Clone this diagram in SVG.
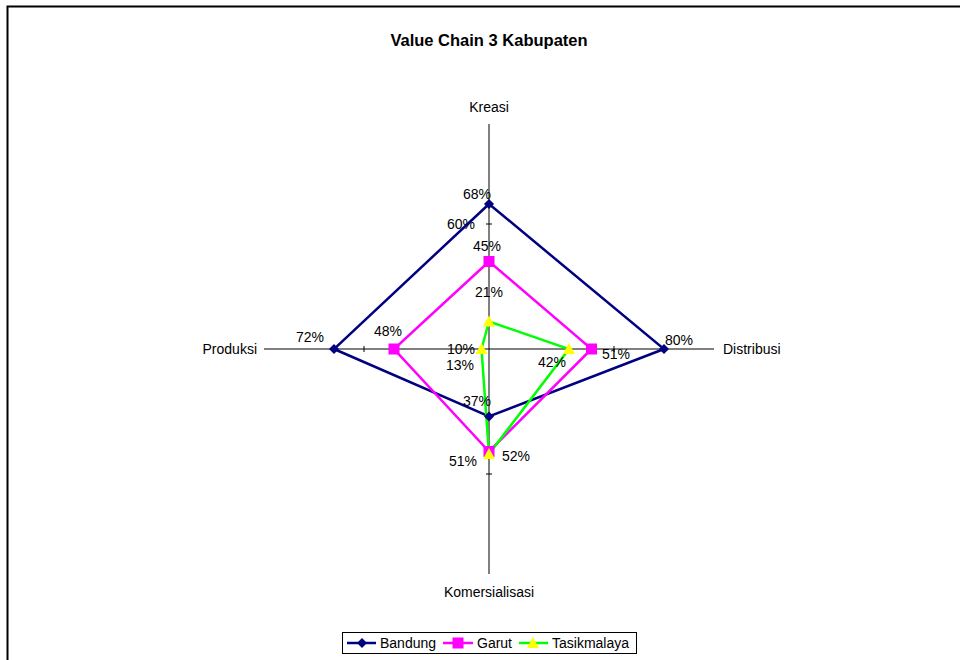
<svg xmlns="http://www.w3.org/2000/svg" width="960" height="660" viewBox="0 0 960 660">
<style>
text{font-family:"Liberation Sans",Arial,sans-serif;font-size:14px;fill:#000}
.t{font-size:16.5px;font-weight:bold}
.ax{stroke:#000;stroke-width:1;fill:none}
.b{stroke:#000080;stroke-width:2.5;fill:none;stroke-linejoin:miter}
.g{stroke:#FF00FF;stroke-width:2.5;fill:none}
.k{stroke:#00FF00;stroke-width:2.5;fill:none}
.m{text-anchor:middle}
</style>
<defs>
<path id="dia" d="M0,-5 L5,0 L0,5 L-5,0 Z" fill="#000080"/>
<rect id="sq" x="-5.5" y="-5.5" width="11" height="11" fill="#FF00FF"/>
<path id="tri" d="M0,-6 L6,5 L-6,5 Z" fill="#FFFF00"/>
</defs>
<rect x="0" y="0" width="960" height="660" fill="#fff"/>
<path d="M7.5,670 L7.5,6.5 L970,6.5" stroke="#000" stroke-width="2" fill="none"/>
<text class="t m" x="489" y="46">Value Chain 3 Kabupaten</text>
<g id="axes">
<line class="ax" x1="489" y1="124" x2="489" y2="574"/>
<line class="ax" x1="264" y1="349" x2="714" y2="349"/>
<line class="ax" x1="486" y1="224" x2="492" y2="224"/>
<line class="ax" x1="486" y1="474" x2="492" y2="474"/>
<line class="ax" x1="364" y1="346" x2="364" y2="352"/>
<line class="ax" x1="614" y1="346" x2="614" y2="352"/>
<text class="m" x="489" y="112">Kreasi</text>
<text class="m" x="489" y="597">Komersialisasi</text>
<text x="257" y="354" text-anchor="end">Produksi</text>
<text x="723" y="354">Distribusi</text>
<text x="475" y="229" text-anchor="end">60%</text>
<text x="475" y="354" text-anchor="end">10%</text>
</g>
<g id="connectors">
<polygon class="b" points="489,204 664,349 489,416.5 334,349"/>
<polygon class="g" points="489,261.5 591.5,349 489,451.5 394,349"/>
<polygon class="k" points="489,321.5 569,349 489,454 481.5,349"/>
</g>
<g id="bandung">
<use href="#dia" x="489" y="204"/><use href="#dia" x="664" y="349"/><use href="#dia" x="489" y="416.5"/><use href="#dia" x="334" y="349"/>
<text class="m" x="477" y="199">68%</text>
<text class="m" x="679" y="345">80%</text>
<text class="m" x="477" y="406">37%</text>
<text class="m" x="310" y="342">72%</text>
</g>
<g id="garut">
<use href="#sq" x="489" y="261.5"/><use href="#sq" x="591.5" y="349"/><use href="#sq" x="489" y="451.5"/><use href="#sq" x="394" y="349"/>
<text class="m" x="487" y="251">45%</text>
<text class="m" x="616" y="359">51%</text>
<text class="m" x="463" y="466">51%</text>
<text class="m" x="388" y="336">48%</text>
</g>
<g id="tasikmalaya">
<use href="#tri" x="489" y="321.5"/><use href="#tri" x="569" y="349"/><use href="#tri" x="489" y="454"/><use href="#tri" x="481.5" y="349"/>
<text class="m" x="489" y="297">21%</text>
<text class="m" x="552" y="367">42%</text>
<text class="m" x="516" y="461">52%</text>
<text class="m" x="460" y="370">13%</text>
</g>
<g id="legend">
<rect x="342.5" y="632.5" width="294" height="21" fill="#fff" stroke="#000" stroke-width="1"/>
<line class="b" x1="347" y1="643" x2="376" y2="643"/><use href="#dia" x="362" y="643"/>
<text x="380" y="648">Bandung</text>
<line class="g" x1="443" y1="643" x2="473" y2="643"/><use href="#sq" x="458" y="643"/>
<text x="477" y="648">Garut</text>
<line class="k" x1="519" y1="643" x2="548" y2="643"/><use href="#tri" x="533" y="643"/>
<text x="552" y="648">Tasikmalaya</text>
</g>
</svg>
